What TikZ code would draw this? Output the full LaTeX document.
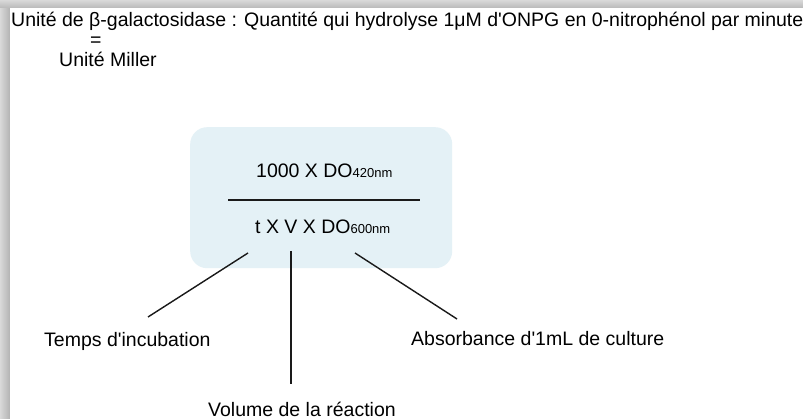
\documentclass[tikz,border=0pt]{standalone}
\usepackage{fontspec}
\setmainfont{Liberation Sans}[Ligatures=TeXOff]
\definecolor{boxblue}{HTML}{E4F1F6}
\definecolor{inkgray}{HTML}{1A1A1A}
\tikzset{
  lbl/.style={inner sep=0pt, anchor=base west, text=black},
  big/.style={font=\fontsize{19.5}{19.5}\selectfont},
  conn/.style={draw=inkgray, line width=1.4pt},
}
\newcommand{\sm}[1]{{\fontsize{13}{13}\selectfont #1}}
\begin{document}
\begin{tikzpicture}[x=1pt,y=-1pt]
\useasboundingbox (0,0) rectangle (803,419);
% screenshot shadow
\shade[left color=gray!30, right color=gray!60] (0,0) rectangle (10,419);
\shade[top color=gray!30, bottom color=gray!55] (0,0) rectangle (803,8);
\fill[white] (10,8) rectangle (803,419);
% texts
\node[lbl, big] (title) at (11,27) {Unité de β-galactosidase : Quantité qui hydrolyse 1μM d'ONPG en 0-nitrophénol par minute};
\node[lbl, big] (eq) at (90,46.5) {=};
\node[lbl, big] (miller) at (59,67) {Unité Miller};
% box
\node[fill=boxblue, rounded corners=17pt, minimum width=262pt, minimum height=141pt, inner sep=0pt, anchor=north west] (box) at (190,127) {};
\node[lbl, big] (num) at (256,178) {1000 X DO\sm{420nm}};
\coordinate (fl) at (228,200);
\coordinate (fr) at (420,200);
\draw[conn] (fl) -- (fr);
\node[lbl, big] (den) at (255,234) {t X V X DO\sm{600nm}};
% connectors
\coordinate (a1) at (248,253);
\coordinate (b1) at (291,251);
\coordinate (c1) at (355,253);
\coordinate (a2) at (148,317);
\coordinate (b2) at (291,384);
\coordinate (c2) at (457,319);
\draw[conn] (a1) -- (a2);
\draw[conn] (b1) -- (b2);
\draw[conn] (c1) -- (c2);
\node[lbl, big] (temps) at (44,347) {Temps d'incubation};
\node[lbl, big] (abs) at (411,346) {Absorbance d'1mL de culture};
\node[lbl, big] (vol) at (208,416) {Volume de la réaction};
\end{tikzpicture}
\end{document}
